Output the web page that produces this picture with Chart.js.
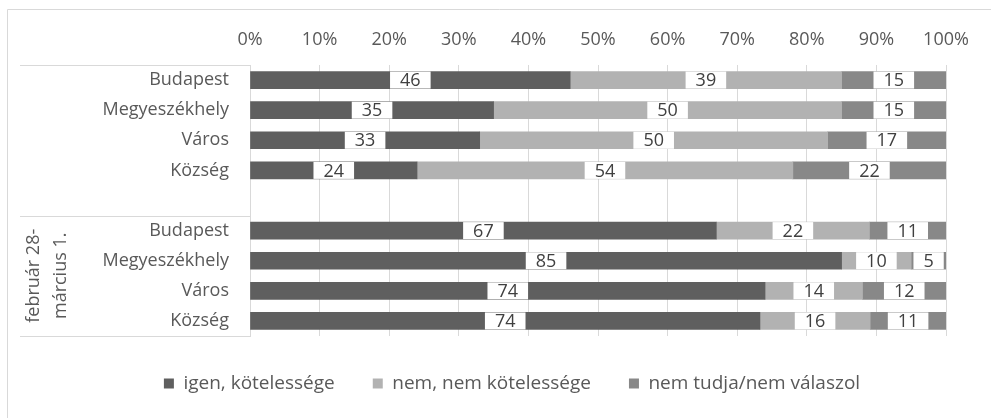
<!DOCTYPE html>
<html>
<head>
<meta charset="utf-8">
<script src="https://cdn.jsdelivr.net/npm/chart.js@4"></script>
<style>
  html, body { margin: 0; padding: 0; background: #fff; }
  #wrap { width: 991px; height: 418px; position: relative; }
</style>
</head>
<body>
<div id="wrap"><canvas id="chart"></canvas></div>
<script>
// Data
const categories = ['Budapest', 'Megyeszékhely', 'Város', 'Község', '', 'Budapest', 'Megyeszékhely', 'Város', 'Község'];
const igen = [46, 35, 33, 24, null, 67, 85, 74, 74];
const nem = [39, 50, 50, 54, null, 22, 10, 14, 16];
const nemTudja = [15, 15, 17, 22, null, 11, 5, 12, 11];
const seriesNames = ['igen, kötelessége', 'nem, nem kötelessége', 'nem tudja/nem válaszol'];
const groupLabel = ['február 28-', 'március 1.'];
const xTicks = [0, 10, 20, 30, 40, 50, 60, 70, 80, 90, 100];

const FONT = '"Open Sans", sans-serif';
const FS = 18;
const GRID = '#d9d9d9';
const TEXT = '#595959';
const PAD_LEFT = 78;

// 100% stacked: turn raw values into shares of the row total
function share(arr, i) {
  const v = arr[i];
  if (v === null) return null;
  const total = igen[i] + nem[i] + nemTudja[i];
  return v / total * 100;
}
const raw = [igen, nem, nemTudja];
const colors = ['#5f5f5f', '#b2b2b2', '#888888'];

const datasets = raw.map((arr, k) => ({
  label: seriesNames[k],
  data: arr.map((v, i) => share(arr, i)),
  rawValues: arr,
  backgroundColor: colors[k],
  borderWidth: 0,
  barThickness: 17
}));

// Value labels on white boxes in the middle of each segment
const boxLabels = {
  id: 'boxLabels',
  afterDatasetsDraw(chart) {
    const ctx = chart.ctx;
    ctx.save();
    ctx.font = FS + 'px ' + FONT;
    ctx.textAlign = 'center';
    ctx.textBaseline = 'middle';
    chart.data.datasets.forEach((ds, di) => {
      const meta = chart.getDatasetMeta(di);
      meta.data.forEach((bar, i) => {
        const v = ds.rawValues[i];
        if (v === null) return;
        const cx = (bar.x + bar.base) / 2;
        const tw = ctx.measureText(String(v)).width;
        ctx.fillStyle = '#fff';
        ctx.fillRect(cx - tw / 2 - 10, bar.y - bar.height / 2, tw + 20, bar.height);
        ctx.fillStyle = '#404040';
        ctx.fillText(String(v), cx, bar.y + 1);
      });
    });
    ctx.restore();
  }
};

// Outer frame, group separators and the rotated group label
const frame = {
  id: 'frame',
  afterDraw(chart) {
    const ctx = chart.ctx;
    const area = chart.chartArea;
    const y = chart.scales.y;
    ctx.save();
    ctx.strokeStyle = GRID;
    ctx.lineWidth = 1;
    ctx.beginPath();
    ctx.moveTo(7.5, 418); ctx.lineTo(7.5, 9.5); ctx.lineTo(991, 9.5);
    const seps = [area.top, y.getPixelForValue(4.5), area.bottom];
    seps.forEach(p => {
      const yy = Math.round(p) + 0.5;
      ctx.moveTo(20, yy); ctx.lineTo(area.left, yy);
    });
    ctx.stroke();

    const midY = (y.getPixelForValue(4.5) + area.bottom) / 2;
    ctx.fillStyle = TEXT;
    ctx.font = FS + 'px ' + FONT;
    ctx.textAlign = 'center';
    ctx.textBaseline = 'middle';
    groupLabel.forEach((t, k) => {
      ctx.save();
      ctx.translate(34 + k * 27, midY);
      ctx.rotate(-Math.PI / 2);
      ctx.fillText(t, 0, 0);
      ctx.restore();
    });
    ctx.restore();
  }
};

new Chart(document.getElementById('chart'), {
  type: 'bar',
  data: { labels: categories, datasets: datasets },
  options: {
    indexAxis: 'y',
    responsive: true,
    maintainAspectRatio: false,
    animation: false,
    layout: { padding: { top: 20, right: 45, bottom: 15, left: PAD_LEFT } },
    scales: {
      x: {
        position: 'top',
        stacked: true,
        min: 0,
        max: 100,
        afterFit: s => { s.height = 45; },
        afterBuildTicks: s => { s.ticks = xTicks.map(v => ({ value: v })); },
        ticks: {
          padding: 14,
          color: TEXT,
          font: { family: FONT, size: FS },
          callback: v => v + '%'
        },
        grid: { color: GRID, drawTicks: false },
        border: { display: false }
      },
      y: {
        stacked: true,
        afterFit: s => { s.width = 250 - PAD_LEFT; },
        ticks: {
          padding: 21,
          color: TEXT,
          font: { family: FONT, size: FS }
        },
        grid: { display: true, drawOnChartArea: false, drawTicks: false },
        border: { display: true, color: GRID }
      }
    },
    plugins: {
      tooltip: { enabled: false },
      legend: {
        position: 'bottom',
        labels: {
          boxWidth: 10,
          boxHeight: 10,
          padding: 38,
          color: TEXT,
          font: { family: FONT, size: 19 }
        }
      }
    }
  },
  plugins: [boxLabels, frame]
});
</script>
</body>
</html>
